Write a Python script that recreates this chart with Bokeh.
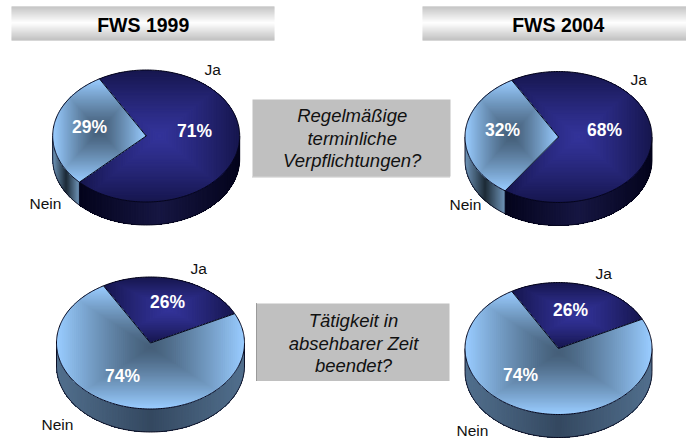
import math
from bokeh.embed import file_html
from bokeh.resources import INLINE
from bokeh.plotting import figure
from bokeh.models import Range1d
from bokeh.core.properties import value

# ---- data ----
panels = ["FWS 1999", "FWS 2004"]
questions = [["Regelmäßige", "terminliche", "Verpflichtungen?"],
             ["Tätigkeit in", "absehbarer Zeit", "beendet?"]]
slice_names = ["Ja", "Nein"]
ja_share = [71, 68, 26, 26]
nein_share = [29, 32, 74, 74]

# ---- layout (page pixel coordinates) ----
FONT = "Liberation Sans"
pie_cx = [145.7, 558, 150, 558]
pie_cy = [135.5, 136.5, 342.5, 348]
pie_rx = [93.5, 93.5, 94, 93.5]
pie_ry = [66, 65.5, 66, 66]
pie_depth = [23, 23, 23, 23]
start_angle = -30  # clockwise from the top
TEXT_SHIFT = -7  # the svg backend draws alphabetic text below the given y

ja_label = [(204, 76), (630, 86), (190, 275), (595, 280)]
nein_label = [(29, 210), (449, 211), (41, 431), (456, 437)]
ja_pct_pos = [(194, 137), (604, 136), (167, 308), (570, 316)]
nein_pct_pos = [(89, 133), (502, 136), (122, 382), (520, 381)]

DARK_EDGE, DARK_CENTRE = (22, 22, 78), (51, 51, 153)
LIGHT_EDGE, LIGHT_CENTRE = (153, 204, 255), (68, 94, 120)

p = figure(width=686, height=440, x_range=Range1d(0, 686), y_range=Range1d(440, 0),
           output_backend="svg", toolbar_location=None,
           x_axis_location=None, y_axis_location=None, min_border=0,
           outline_line_color=None, background_fill_color="white",
           border_fill_color="white")
p.grid.visible = False
p.styles = {"position": "absolute", "left": "0px", "top": "0px"}


def lerp(a, b, t):
    return "#%02x%02x%02x" % tuple(round(a[i] + (b[i] - a[i]) * t) for i in range(3))


def clip(poly, x0, x1, y0, y1):
    def run(pts, inside, cross):
        out = []
        for i, q in enumerate(pts):
            r = pts[i - 1]
            if inside(q):
                if not inside(r):
                    out.append(cross(r, q))
                out.append(q)
            elif inside(r):
                out.append(cross(r, q))
        return out

    def cx(v):
        return lambda a, b: (v, a[1] + (b[1] - a[1]) * (v - a[0]) / (b[0] - a[0]))

    def cy(v):
        return lambda a, b: (a[0] + (b[0] - a[0]) * (v - a[1]) / (b[1] - a[1]), v)

    for inside, cross in [(lambda q: q[0] >= x0, cx(x0)), (lambda q: q[0] <= x1, cx(x1)),
                          (lambda q: q[1] >= y0, cy(y0)), (lambda q: q[1] <= y1, cy(y1))]:
        if not poly:
            return []
        poly = run(poly, inside, cross)
    return poly


def point(i, deg, dy=0.0):
    a = math.radians(deg)
    return (pie_cx[i] + pie_rx[i] * math.sin(a), pie_cy[i] - pie_ry[i] * math.cos(a) + dy)


def wall(i, a0, a1, edge, centre):
    a0, a1 = max(a0, 90), min(a1, 270)
    if a1 <= a0:
        return
    d = pie_depth[i]
    n = max(2, int(a1 - a0))
    angs = [a0 + (a1 - a0) * k / n for k in range(n + 1)]
    xs = [point(i, a)[0] for a in angs]
    lo, hi = min(xs), max(xs)
    mid, half = (lo + hi) / 2, max((hi - lo) / 2, 1e-6)
    qx, qy, col = [], [], []
    # each strip runs to the wall's far end, so the next one overpaints it and no seams show
    for k in range(n):
        rest = angs[k:]
        t = 1 - abs((point(i, (angs[k] + angs[k + 1]) / 2)[0] - mid) / half)
        qx.append([point(i, a)[0] for a in rest] + [point(i, a, d)[0] for a in reversed(rest)])
        qy.append([point(i, a)[1] for a in rest] + [point(i, a, d)[1] for a in reversed(rest)])
        col.append(lerp(edge, centre, t))
    p.patches(qx, qy, fill_color=col, line_color=None)
    ox = [point(i, angs[0])[0]] + [point(i, a, d)[0] for a in angs] + [point(i, angs[-1])[0]]
    oy = [point(i, angs[0])[1]] + [point(i, a, d)[1] for a in angs] + [point(i, angs[-1])[1]]
    p.line(ox, oy, line_color="#05051a", line_width=0.9)


def top(i, a0, a1, edge, centre):
    n = max(4, int(a1 - a0))
    poly = [(pie_cx[i], pie_cy[i])] + [point(i, a0 + (a1 - a0) * k / n) for k in range(n + 1)]
    xs, ys = [q[0] for q in poly], [q[1] for q in poly]
    mx, my = (min(xs) + max(xs)) / 2, (min(ys) + max(ys)) / 2
    hw, hh = (max(xs) - min(xs)) / 2, (max(ys) - min(ys)) / 2
    levels = 48
    qx, qy, col = [], [], []
    for k in range(levels):
        t = 1 - k / levels
        c = clip(poly, mx - hw * t - .01, mx + hw * t + .01, my - hh * t - .01, my + hh * t + .01)
        if len(c) >= 3:
            qx.append([q[0] for q in c])
            qy.append([q[1] for q in c])
            col.append(lerp(centre, edge, t ** 1.25))
    p.patches(qx, qy, fill_color=col, line_color=None)
    p.line(xs + [xs[0]], ys + [ys[0]], line_color="#05051a", line_width=1)


def label(x, y, txt, size, color, align="left", style="normal"):
    p.text([x], [y + TEXT_SHIFT], text=[txt], text_align=align, text_baseline="alphabetic",
           text_font=value(FONT), text_font_style=style, text_font_size=size, text_color=color)


# banners
for left, right, name, mid in [(11, 274, panels[0], 142.7), (422, 686, panels[1], 557.7)]:
    top_y, bot_y, n = 6.0, 40.0, 34
    ys = [top_y + (bot_y - top_y) * k / n for k in range(n + 1)]
    cols = [lerp((176, 176, 176), (255, 255, 255), max(0.0, 1 - abs((ys[k] + .5 - 22.5) / 16.5))) for k in range(n)]
    p.quad(left=left, right=right, top=ys[:-1], bottom=ys[1:], fill_color=cols, line_color=None)
    label(mid, 31, name, "19.5px", "#000000", "center", "bold")

# question boxes
p.quad(left=[252, 256], right=[450, 449], top=[99, 303], bottom=[176, 380.5],
       fill_color="#c0c0c0", line_color=None)
p.line([252, 450], [176.5, 176.5], line_color="#8c8c8c", line_width=1, line_dash="1 1")
p.line([256, 256], [303, 380.5], line_color="#555555", line_width=1, line_dash="1 1")
for lines, mid, bases in [(questions[0], 351.7, [122, 145, 167]), (questions[1], 353, [327, 350, 372])]:
    for txt, base in zip(lines, bases):
        label(mid, base, txt, "18.5px", "#111111", "center", "italic")

# pies
for i in range(4):
    split = start_angle + ja_share[i] * 3.6
    end = start_angle + (ja_share[i] + nein_share[i]) * 3.6
    small = nein_share[i] < 50
    wall(i, start_angle, split, (4, 4, 28), (22, 22, 66))
    wall(i, split, end, (112, 150, 186) if small else (82, 112, 142),
         (28, 42, 54) if small else (52, 72, 96))
    top(i, start_angle, split, DARK_EDGE, DARK_CENTRE)
    top(i, split, end, LIGHT_EDGE, LIGHT_CENTRE)
    label(*ja_label[i], slice_names[0], "15.5px", "#111111")
    label(*nein_label[i], slice_names[1], "15.5px", "#111111")
    label(*ja_pct_pos[i], f"{ja_share[i]}%", "17.5px", "#ffffff", "center", "bold")
    label(*nein_pct_pos[i], f"{nein_share[i]}%", "17.5px", "#ffffff", "center", "bold")

open("out.html", "w").write(file_html(p, INLINE))
